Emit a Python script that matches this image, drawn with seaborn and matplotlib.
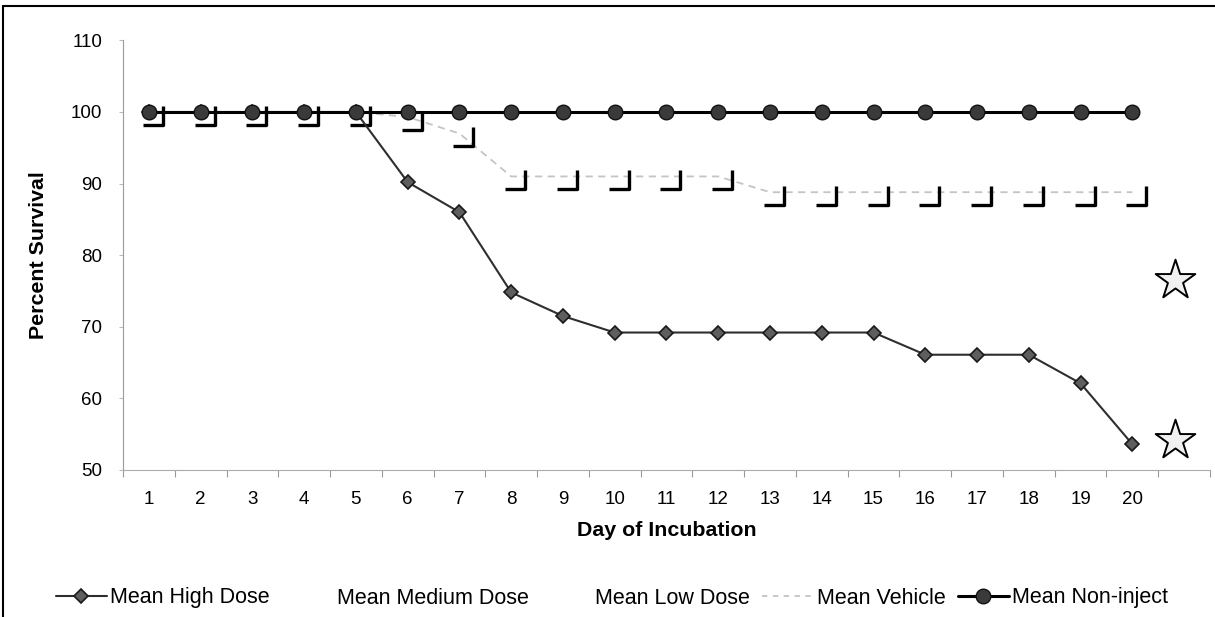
import numpy as np
import pandas as pd
import matplotlib
matplotlib.use("Agg")
import matplotlib.pyplot as plt
from matplotlib.lines import Line2D
from matplotlib.path import Path
from matplotlib.markers import MarkerStyle
import seaborn as sns

# ---- data -------------------------------------------------------------
days = list(range(1, 21))
high_dose = [100, 100, 100, 100, 100, 90.2, 86.0, 74.8, 71.5, 69.2,
             69.2, 69.2, 69.2, 69.2, 69.2, 66.1, 66.1, 66.1, 62.1, 53.6]
vehicle = [100, 100, 100, 100, 100, 99.3, 97.0, 91.0, 91.0, 91.0,
           91.0, 91.0, 88.8, 88.8, 88.8, 88.8, 88.8, 88.8, 88.8, 88.8]
non_inject = [100] * 20
# significance stars beside the day-20 values
star_x = [20.83, 20.83]
star_y = [76.6, 54.2]
legend_labels = ["Mean High Dose", "Mean Medium Dose", "Mean Low Dose",
                 "Mean Vehicle", "Mean Non-inject"]

df = pd.DataFrame({"day": days, "high": high_dose, "vehicle": vehicle,
                   "non_inject": non_inject})

# ---- style ------------------------------------------------------------
sns.set_theme(style="white")
plt.rcParams["font.family"] = ["Liberation Sans", "DejaVu Sans"]
for key in ("text.color", "axes.labelcolor", "xtick.color", "ytick.color"):
    plt.rcParams[key] = "black"

W, H = 1215, 617
fig = plt.figure(figsize=(W / 100, H / 100), dpi=100)
ax_l, ax_r, ax_t, ax_b = 123, 1210, 40.4, 470
ax = fig.add_axes([ax_l / W, 1 - ax_b / H, (ax_r - ax_l) / W, (ax_b - ax_t) / H])

# corner-shaped marker used by the vehicle series
corner = MarkerStyle(Path([(-6, -13), (14, -13), (14, 6)],
                          [Path.MOVETO, Path.LINETO, Path.LINETO]))

sns.lineplot(data=df, x="day", y="vehicle", ax=ax, color="#c4c4c4",
             linewidth=1.3, linestyle=(0, (4, 3)), marker=corner,
             markersize=20, markerfacecolor="none", markeredgecolor="black",
             markeredgewidth=2.4, zorder=2)
sns.lineplot(data=df, x="day", y="high", ax=ax, color="#2e2e2e",
             linewidth=1.5, marker="D", markersize=7.5,
             markerfacecolor="#5e5e5e", markeredgecolor="#1a1a1a",
             markeredgewidth=1.2, zorder=3)
sns.lineplot(data=df, x="day", y="non_inject", ax=ax, color="black",
             linewidth=2.2, marker="o", markersize=10.5,
             markerfacecolor="#3a3a3a", markeredgecolor="#111111",
             markeredgewidth=1.0, zorder=4)
sns.scatterplot(x=star_x, y=star_y, ax=ax, marker="*", s=900,
                color="#f0f0f0", edgecolor="black", linewidth=1.4, zorder=5)

# ---- axes -------------------------------------------------------------
ax.set_xlim(0.5, 21.5)
ax.set_ylim(50, 110)
ax.set_xticks(days)
ax.set_xticklabels([str(d) for d in days])
ax.set_xticks(np.arange(0.5, 22, 1), minor=True)
ax.set_yticks(range(50, 111, 10))
ax.tick_params(axis="x", which="major", length=0, pad=15, labelsize=13.5,
               labelcolor="black")
ax.tick_params(axis="x", which="minor", length=5, width=0.8,
               color="#9a9a9a", direction="out", bottom=True)
ax.tick_params(axis="y", which="major", length=3, width=0.8,
               color="#bbbbbb", direction="out", pad=12, labelsize=13.5,
               labelcolor="black", left=True)
for side in ("top", "right"):
    ax.spines[side].set_visible(False)
ax.spines["left"].set_color("#9a9a9a")
ax.spines["left"].set_linewidth(0.8)
ax.spines["bottom"].set_color("#aaaaaa")
ax.spines["bottom"].set_linewidth(0.8)
ax.grid(False)

ax.set_xlabel("Day of Incubation", fontsize=15.4, fontweight="bold",
              color="black")
ax.set_ylabel("Percent Survival", fontsize=15.4, fontweight="bold",
              color="black")
ax.xaxis.set_label_coords(0.5, (ax_b - 530) / (ax_b - ax_t))
ax.xaxis.label.set_va("center")
ax.yaxis.set_label_coords((39 - ax_l) / (ax_r - ax_l), 0.5)
ax.yaxis.label.set_va("center")

# ---- legend -----------------------------------------------------------
handles = [
    Line2D([], [], color="#2e2e2e", lw=1.5, marker="D", ms=7.5,
           mfc="#5e5e5e", mec="#1a1a1a", mew=1.2),
    Line2D([], [], color="none"),
    Line2D([], [], color="none"),
    Line2D([], [], color="#c4c4c4", lw=1.3, ls=(0, (3, 3))),
    Line2D([], [], color="black", lw=2.2, marker="o", ms=10.5,
           mfc="#3a3a3a", mec="#111111"),
]
fig.legend(handles, legend_labels, loc="center", ncol=5, frameon=False,
           bbox_to_anchor=(612 / W, 1 - 598 / H), fontsize=15.5,
           handlelength=2.4, handletextpad=0.15, columnspacing=0.55,
           labelcolor="black")

# chart-area border (left and top edges)
fig.add_artist(Line2D([3 / W, 3 / W], [0, 1 - 6 / H], color="black",
                      lw=1.5, transform=fig.transFigure))
fig.add_artist(Line2D([3 / W, 1], [1 - 6 / H, 1 - 6 / H], color="black",
                      lw=1.5, transform=fig.transFigure))

fig.savefig("out.png", dpi=100)
